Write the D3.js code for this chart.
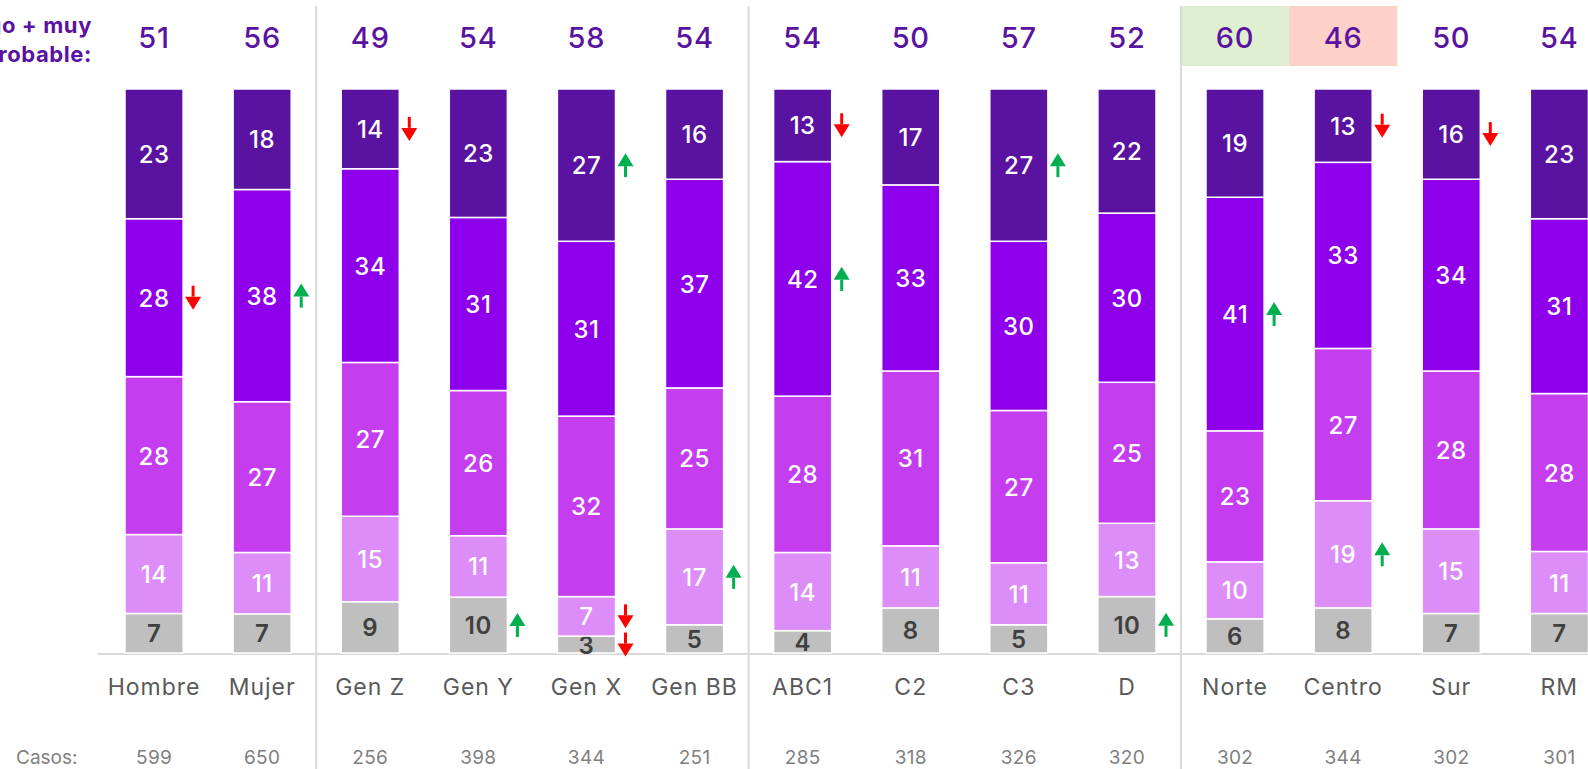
<!DOCTYPE html>
<html><head><meta charset="utf-8">
<script src="https://cdn.jsdelivr.net/npm/d3@7/dist/d3.min.js"></script>
<style>
html,body{margin:0;padding:0;background:#fff;overflow:hidden;}
svg{display:block;font-family:Inter,"Noto Sans",sans-serif;}
</style></head><body>
<svg id="chart" width="1588" height="769"></svg>
<script>
const categories = ["Hombre","Mujer","Gen Z","Gen Y","Gen X","Gen BB","ABC1","C2","C3","D","Norte","Centro","Sur","RM"];
const casos = [599,650,256,398,344,251,285,318,326,320,302,344,302,301];
const topTotals = [51,56,49,54,58,54,54,50,57,52,60,46,50,54];
// segments from top to bottom
const muyProbable   = [23,18,14,23,27,16,13,17,27,22,19,13,16,23];
const probable      = [28,38,34,31,31,37,42,33,30,30,41,33,34,31];
const pocoProbable  = [28,27,27,26,32,25,28,31,27,25,23,27,28,28];
const nadaProbable  = [14,11,15,11,7,17,14,11,11,13,10,19,15,11];
const noSabe        = [7,7,9,10,3,5,4,8,5,10,6,8,7,7];
const seriesKeys = ["noSabe","nada","poco","probable","muy"];
const seriesColors = {muy:"#5a12a0", probable:"#8e00ec", poco:"#c43ef0", nada:"#dd8df8", noSabe:"#bfbfbf"};
const groupSeparators = [["Mujer","Gen Z"],["Gen BB","ABC1"],["D","Norte"]];
const highlights = [["Norte","#dff0d0"],["Centro","#fdd1c8"]];
const leftLabel = ["Algo + muy","probable:"];
// significance arrows: [category, series, direction]
const arrows = [
  ["Hombre","probable","down"],["Mujer","probable","up"],["Gen Z","muy","down"],
  ["Gen Y","noSabe","up"],["Gen X","muy","up"],["Gen X","nada","down"],["Gen X","noSabe","down"],
  ["Gen BB","nada","up"],["ABC1","muy","down"],["ABC1","probable","up"],["C3","muy","up"],
  ["D","noSabe","up"],["Norte","probable","up"],["Centro","muy","down"],["Centro","nada","up"],
  ["Sur","muy","down"]
];

const rows = categories.map((c,i)=>({cat:c, muy:muyProbable[i], probable:probable[i], poco:pocoProbable[i], nada:nadaProbable[i], noSabe:noSabe[i]}));
const svg = d3.select("#chart");
const x = d3.scaleBand().domain(categories).range([100, 100+14*108.1]).paddingInner(0.4625).paddingOuter(0.23125);
const y = d3.scaleLinear().domain([0,1]).range([653, 89]);
const step = x.step(), bw = x.bandwidth();
const cx = c => x(c) + bw/2;

svg.selectAll("rect.hl").data(highlights).join("rect")
  .attr("x", d=>cx(d[0]) - step/2).attr("y", 6).attr("width", step).attr("height", 60)
  .attr("fill", d=>d[1]);

svg.selectAll("line.sep").data(groupSeparators).join("line")
  .attr("x1", d=>(cx(d[0])+cx(d[1]))/2).attr("x2", d=>(cx(d[0])+cx(d[1]))/2)
  .attr("y1", 6).attr("y2", 769).attr("stroke", "#d9d9d9").attr("stroke-width", 2);

svg.append("line").attr("x1", 98).attr("x2", 1588).attr("y1", y(0)+1).attr("y2", y(0)+1)
  .attr("stroke", "#d9d9d9").attr("stroke-width", 2);

const stack = d3.stack().keys(seriesKeys).offset(d3.stackOffsetExpand);
const stacked = stack(rows);

const g = svg.append("g");
stacked.forEach(layer=>{
  const key = layer.key;
  g.selectAll(null).data(layer).join("rect")
    .attr("x", d=>x(d.data.cat)).attr("width", bw)
    .attr("y", d=>y(d[1])).attr("height", d=>y(d[0])-y(d[1]))
    .attr("fill", seriesColors[key]).attr("stroke", "#fff").attr("stroke-width", 1.5);
  g.selectAll(null).data(layer).join("text")
    .attr("x", d=>cx(d.data.cat)).attr("y", d=>(y(d[0])+y(d[1]))/2 + 9)
    .attr("text-anchor", "middle").attr("letter-spacing", 0.5)
    .attr("font-size", 24).attr("font-weight", key==="noSabe"?600:500)
    .attr("fill", key==="noSabe" ? "#404040" : "#fff")
    .text(d=>d.data[key]);
});

const layerMap = {}; stacked.forEach(l=>layerMap[l.key]=l);
arrows.forEach(([cat,key,dir])=>{
  const i = categories.indexOf(cat);
  const d = layerMap[key][i];
  const ay = (y(d[0])+y(d[1]))/2;
  const ax = x(cat) + bw + 10;
  const col = dir==="up" ? "#00b050" : "#ff0000";
  const s = dir==="up" ? -1 : 1;
  const tip = ay + s*12, base = ay + s*(-1), tail = ay - s*12;
  svg.append("line").attr("x1", ax).attr("x2", ax).attr("y1", tail).attr("y2", base)
    .attr("stroke", col).attr("stroke-width", 3);
  svg.append("path").attr("d", `M${ax-8},${base}L${ax+8},${base}L${ax},${tip}Z`).attr("fill", col);
});

svg.selectAll("text.tot").data(topTotals).join("text")
  .attr("x", (d,i)=>cx(categories[i])).attr("y", 48).attr("text-anchor", "middle")
  .attr("letter-spacing", 0.8)
  .attr("font-size", 29).attr("font-weight", 500).attr("fill", "#5a12a0").text(d=>d);

svg.selectAll("text.left").data(leftLabel).join("text")
  .attr("x", 92).attr("y", (d,i)=>33 + i*29).attr("text-anchor", "end")
  .attr("font-size", 22).attr("font-weight", 700).attr("letter-spacing", 0.6)
  .attr("fill", "#5a12a0").text(d=>d);

svg.selectAll("text.cat").data(categories).join("text")
  .attr("x", d=>cx(d)).attr("y", 695).attr("text-anchor", "middle")
  .attr("font-size", 23).attr("letter-spacing", 1).attr("fill", "#595959").text(d=>d);

svg.append("text").attr("x", 16).attr("y", 764).attr("font-size", 19).attr("fill", "#808080").text("Casos:");
svg.selectAll("text.cas").data(casos).join("text")
  .attr("x", (d,i)=>cx(categories[i])).attr("y", 764).attr("text-anchor", "middle")
  .attr("font-size", 19).attr("letter-spacing", 0.3).attr("fill", "#808080").text(d=>d);
</script>
</body></html>
